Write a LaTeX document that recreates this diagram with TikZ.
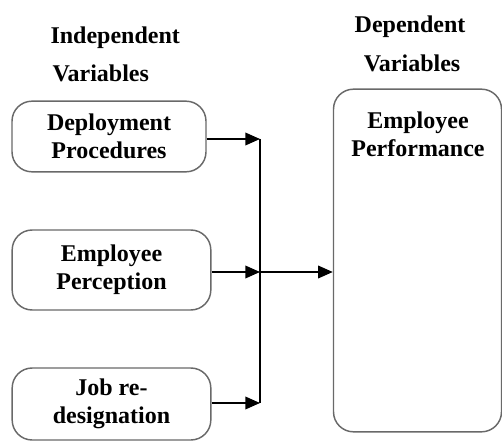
\documentclass[tikz,border=0pt]{standalone}
\usepackage{fontspec}
\setmainfont{Liberation Serif}
\usetikzlibrary{arrows.meta}

\tikzset{every picture/.style={line width=0.75pt}}
\tikzset{
	varbox/.style={draw={rgb, 255:red, 105; green, 105; blue, 105}, line width=1.1pt, rounded corners=15pt, align=center, inner sep=0pt},
	vartext/.style={font=\fontsize{18}{21}\selectfont\bfseries, align=center},
	headtext/.style={font=\fontsize{18}{21}\selectfont\bfseries, inner sep=0pt},
	link/.style={line width=1.1pt, -{Triangle[length=11pt, width=9.5pt]}}
}

\begin{document}
\begin{tikzpicture}[x=0.75pt,y=0.75pt,yscale=-1,xscale=1]
	\useasboundingbox (0,0) rectangle (502,441);

	% Headings
	\node [headtext, anchor=base west] (indep1) at (50,44) {Independent};
	\node [headtext, anchor=base west] (indep2) at (52,82) {Variables};
	\node [headtext, anchor=base] (dep1) at (410,33) {Dependent};
	\node [headtext, anchor=base] (dep2) at (412,72) {Variables};

	% Independent variables
	\node [varbox, vartext, minimum width=145.5pt, minimum height=53pt] (deploy) at (109,136.5) {Deployment\\Procedures};
	\node [varbox, vartext, minimum width=149pt, minimum height=60pt] (percept) at (111.5,270) {Employee\\Perception};
	\node [varbox, vartext, minimum width=149pt, minimum height=54pt] (redesig) at (111.5,404) {Job re-\\designation};

	% Dependent variable
	\node [varbox, minimum width=126pt, minimum height=257pt] (perf) at (417.5,260.5) {};
	\node [vartext] (perftxt) at (418,134) {Employee\\Performance};

	% Collecting line
	\coordinate (bustop) at (260,139);
	\coordinate (busmid) at (260,272);
	\coordinate (busbot) at (260,403);
	\draw [line width=1.1pt] (bustop) -- (busbot);

	% Arrows
	\draw [link] (deploy.east |- bustop) -- (bustop);
	\draw [link] (percept.east |- busmid) -- (busmid);
	\draw [link] (redesig.east |- busbot) -- (busbot);
	\draw [link] (busmid) -- (busmid -| perf.west);

\end{tikzpicture}
\end{document}
